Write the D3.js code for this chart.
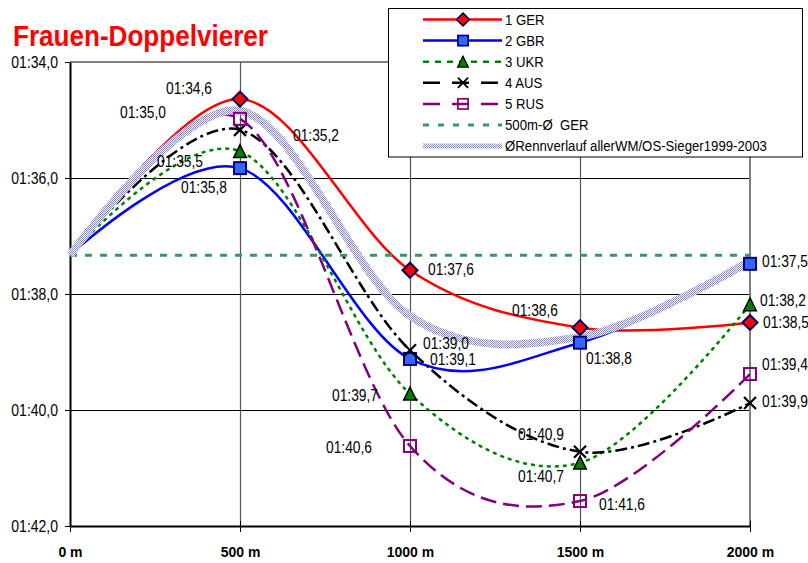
<!DOCTYPE html>
<html><head><meta charset="utf-8">
<script src="https://cdn.jsdelivr.net/npm/d3@7"></script>
<style>
html,body{margin:0;padding:0;background:#fff;}
svg{display:block;font-family:"Liberation Sans",Arial,sans-serif;}
</style></head>
<body>
<svg id="chart" width="808" height="563"></svg>
<script>
// ---------- data ----------
const categories = ["0 m", "500 m", "1000 m", "1500 m", "2000 m"];
const yTickValues = [94, 96, 98, 100, 102];
const yTickLabels = ["01:34,0", "01:36,0", "01:38,0", "01:40,0", "01:42,0"];
const title = "Frauen-Doppelvierer";

const seriesNames = ["1 GER", "2 GBR", "3 UKR", "4 AUS", "5 RUS", "500m-Ø  GER", "ØRennverlauf allerWM/OS-Sieger1999-2003"];
const GER = [97.33, 94.64, 97.59, 98.58, 98.49];
const GBR = [97.33, 95.83, 99.12, 98.84, 97.48];
const UKR = [97.33, 95.54, 99.72, 100.91, 98.18];
const AUS = [97.33, 95.17, 98.97, 100.72, 99.88];
const RUS = [97.33, 94.98, 100.62, 101.57, 99.38];
const avgGER = [97.33, 97.33, 97.33, 97.33, 97.33];
const avgWinners = [97.33, 94.84, 98.38, 98.74, 97.43];

const labelsGER = [null, "01:34,6", "01:37,6", "01:38,6", "01:38,5"];
const labelsGBR = [null, "01:35,8", "01:39,1", "01:38,8", "01:37,5"];
const labelsUKR = [null, "01:35,5", "01:39,7", "01:40,7", "01:38,2"];
const labelsAUS = [null, "01:35,2", "01:39,0", "01:40,9", "01:39,9"];
const labelsRUS = [null, "01:35,0", "01:40,6", "01:41,6", "01:39,4"];

// ---------- layout / styles (kept apart from data) ----------
const labelOffsets = {
  GER: [null, [-74, -5], [18, 5], [-68, -12], [13, 6]],
  GBR: [null, [-59, 25], [20, 6], [6, 21], [12, 3]],
  UKR: [null, [-83, 16], [-78, 7], [-62, 19], [10, 2]],
  AUS: [null, [53, 11], [13, -1], [-62, -12], [12, 4]],
  RUS: [null, [-120, -1], [-84, 7], [19, 9], [12, -4]]
};
const TS = 1.13; // vertical text stretch

const svg = d3.select("#chart");
const defs = svg.append("defs");
const pat = defs.append("pattern").attr("id", "chk").attr("width", 2).attr("height", 2)
  .attr("patternUnits", "userSpaceOnUse");
pat.append("rect").attr("width", 2).attr("height", 2).attr("fill", "#ffffff");
pat.append("rect").attr("x", 0).attr("y", 0).attr("width", 1).attr("height", 1).attr("fill", "#8585cc");
pat.append("rect").attr("x", 1).attr("y", 1).attr("width", 1).attr("height", 1).attr("fill", "#8585cc");

const x = d3.scalePoint().domain(categories).range([70, 750]);
const y = d3.scaleLinear().domain([94, 102]).range([62, 526]);

function addText(g, tx, ty, str, size, opts = {}) {
  return g.append("text")
    .attr("transform", `translate(${tx},${ty}) scale(1,${opts.scale || TS})`)
    .attr("font-size", size)
    .attr("font-weight", opts.bold ? "bold" : "normal")
    .attr("fill", opts.fill || "#000")
    .attr("text-anchor", opts.anchor || "start")
    .style("white-space", "pre")
    .text(str);
}

// title
addText(svg, 13, 45, title, 28, { bold: true, fill: "#ff0000" })
  .attr("textLength", 255).attr("lengthAdjust", "spacingAndGlyphs")
  .attr("transform", "translate(13,46) scale(1,1.06)");

// grid
const grid = svg.append("g");
grid.selectAll("line.h").data(yTickValues.slice(1, -1)).join("line")
  .attr("x1", 70).attr("x2", 750).attr("y1", d => Math.round(y(d)) + 0.5).attr("y2", d => Math.round(y(d)) + 0.5)
  .attr("stroke", "#000").attr("stroke-width", 1);
grid.append("line").attr("x1", 70).attr("x2", 751).attr("y1", y(94)).attr("y2", y(94))
  .attr("stroke", "#808080").attr("stroke-width", 2);
grid.selectAll("line.v").data(categories.slice(1, -1)).join("line")
  .attr("x1", d => x(d) + 0.5).attr("x2", d => x(d) + 0.5).attr("y1", y(94)).attr("y2", y(102))
  .attr("stroke", "#555").attr("stroke-width", 1.2);
grid.append("line").attr("x1", x("2000 m")).attr("x2", x("2000 m")).attr("y1", y(94)).attr("y2", y(102))
  .attr("stroke", "#808080").attr("stroke-width", 2);

// axes
const yAxis = svg.append("g").attr("transform", "translate(70,0)")
  .call(d3.axisLeft(y).tickValues(yTickValues).tickFormat((d, i) => yTickLabels[i])
    .tickSizeInner(5).tickSizeOuter(0).tickPadding(7));
yAxis.select(".domain").attr("stroke", "#000").attr("stroke-width", 2);
yAxis.selectAll(".tick line").attr("stroke", "#000");
yAxis.selectAll(".tick text").attr("font-size", 14).attr("font-family", "Liberation Sans, Arial")
  .attr("fill", "#000").attr("transform", `scale(1,${TS})`);

const xAxis = svg.append("g").attr("transform", `translate(0,${y(102)})`)
  .call(d3.axisBottom(x).tickSizeOuter(0));
xAxis.select(".domain").attr("stroke", "#000").attr("stroke-width", 2);
xAxis.selectAll(".tick line").attr("y1", -5).attr("y2", 6).attr("stroke", "#000");
xAxis.selectAll(".tick text").attr("y", 0).attr("dy", 0)
  .attr("transform", "translate(0,31) scale(1,1.07)")
  .attr("font-size", 14).attr("font-weight", "bold").attr("font-family", "Liberation Sans, Arial").attr("fill", "#000");

// series definitions
const series = [
  { key: "GER", vals: GER, labels: labelsGER, color: "#ff0000", width: 2.5, dash: null, marker: "diamond" },
  { key: "GBR", vals: GBR, labels: labelsGBR, color: "#0000ff", width: 2.5, dash: null, marker: "square" },
  { key: "UKR", vals: UKR, labels: labelsUKR, color: "#008000", width: 2.5, dash: "4,4", marker: "triangle" },
  { key: "AUS", vals: AUS, labels: labelsAUS, color: "#000000", width: 2.5, dash: "12,4,3,4", marker: "x" },
  { key: "RUS", vals: RUS, labels: labelsRUS, color: "#800080", width: 2.5, dash: "16,7", marker: "hsquare" },
  { key: "AVG", vals: avgGER, labels: null, color: "#339966", width: 3, dash: "7,8", marker: null },
  { key: "WIN", vals: avgWinners, labels: null, color: "url(#chk)", width: 8, dash: null, marker: null }
];

const line = d3.line().x((d, i) => x(categories[i])).y(d => y(d)).curve(d3.curveCardinal.tension(0));
const lineStraight = d3.line().x((d, i) => x(categories[i])).y(d => y(d));

const linesG = svg.append("g");
series.forEach(s => {
  linesG.append("path").datum(s.vals)
    .attr("d", s.key === "AVG" ? lineStraight : line)
    .attr("fill", "none").attr("stroke", s.color).attr("stroke-width", s.width)
    .attr("stroke-dasharray", s.dash).attr("stroke-linecap", "butt");
});

// markers
function drawMarker(g, type, cx, cy, k = 1) {
  const m = g.append("g").attr("transform", `translate(${cx},${cy}) scale(${k})`);
  if (type === "diamond") m.append("path").attr("d", "M0,-7.5L7.5,0L0,7.5L-7.5,0Z").attr("fill", "#ff0000").attr("stroke", "#000060").attr("stroke-width", 2);
  if (type === "square") m.append("rect").attr("x", -6).attr("y", -6).attr("width", 12).attr("height", 12).attr("fill", "#3366ff").attr("stroke", "#000080").attr("stroke-width", 2);
  if (type === "triangle") m.append("path").attr("d", "M0,-6.5L6.3,6.3L-6.3,6.3Z").attr("fill", "#008000").attr("stroke", "#000").attr("stroke-width", 1.5);
  if (type === "x") m.append("path").attr("d", "M-6,-6L6,6M-6,6L6,-6").attr("stroke", "#000").attr("stroke-width", 2.2).attr("fill", "none");
  if (type === "hsquare") m.append("rect").attr("x", -6).attr("y", -6).attr("width", 12).attr("height", 12).attr("fill", "none").attr("stroke", "#800080").attr("stroke-width", 2);
}
const markG = svg.append("g");
series.forEach(s => {
  if (!s.marker) return;
  s.vals.forEach((v, i) => { if (i > 0) drawMarker(markG, s.marker, x(categories[i]), y(v)); });
});

// data labels
const labG = svg.append("g");
series.forEach(s => {
  if (!s.labels) return;
  s.vals.forEach((v, i) => {
    const t = s.labels[i], off = labelOffsets[s.key][i];
    if (!t || !off) return;
    addText(labG, x(categories[i]) + off[0], y(v) + off[1], t, 13.8);
  });
});

// legend
const lg = svg.append("g");
lg.append("rect").attr("x", 388.5).attr("y", 8.5).attr("width", 414).attr("height", 148.5)
  .attr("fill", "#fff").attr("stroke", "#000").attr("stroke-width", 1);
const legendDash = { GER: null, GBR: null, UKR: "6,6", AUS: "17,12", RUS: "17,12", AVG: "6,9", WIN: null };
series.forEach((s, i) => {
  const cy = 19.5 + i * 21.1;
  lg.append("line").attr("x1", 423).attr("x2", 502).attr("y1", cy).attr("y2", cy)
    .attr("stroke", s.color).attr("stroke-width", s.key === "WIN" ? 5 : s.width)
    .attr("stroke-dasharray", legendDash[s.key]);
  if (s.marker) drawMarker(lg, s.marker, 463, cy, 0.85);
  addText(lg, 505, cy + 5, seriesNames[i], 13.2);
});
</script>
</body></html>
